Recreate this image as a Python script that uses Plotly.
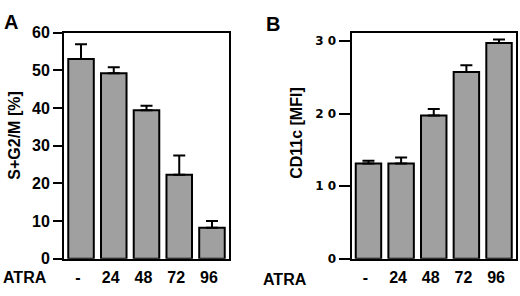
import plotly.graph_objects as go

# ---- data ----
categories = ["-", "24", "48", "72", "96"]
sg2m_values = [53.0, 49.2, 39.4, 22.3, 8.2]
sg2m_err = [3.9, 1.6, 1.2, 5.1, 1.8]
cd11c_values = [13.15, 13.15, 19.75, 25.75, 29.75]
cd11c_err = [0.35, 0.8, 0.9, 0.95, 0.5]
a_ticks = [0, 10, 20, 30, 40, 50, 60]
b_ticks = [0, 10, 20, 30]
b_ticktext = ["0", "1 0", "2 0", "3 0"]

W, H = 520, 296
BAR_FILL = "#a0a0a0"
FONT = "Liberation Sans"


def px(x):
    return x / W


def py(y):
    return 1 - y / H


fig = go.Figure()

fig.add_trace(go.Bar(
    x=list(range(len(categories))), y=sg2m_values,
    width=0.78,
    marker=dict(color=BAR_FILL, line=dict(color="black", width=2)),
    error_y=dict(type="data", symmetric=False, array=sg2m_err,
                 arrayminus=[0] * len(sg2m_err),
                 color="black", thickness=2, width=6),
    xaxis="x", yaxis="y", showlegend=False,
))
fig.add_trace(go.Bar(
    x=list(range(len(categories))), y=cd11c_values,
    width=0.78,
    marker=dict(color=BAR_FILL, line=dict(color="black", width=2)),
    error_y=dict(type="data", symmetric=False, array=cd11c_err,
                 arrayminus=[0] * len(cd11c_err),
                 color="black", thickness=2, width=6),
    xaxis="x2", yaxis="y2", showlegend=False,
))

ydom = [30 / H, 270 / H]
common_x = dict(
    range=[-0.52, 4.52], tickmode="array",
    tickvals=list(range(len(categories))), ticktext=categories,
    showline=True, mirror=True, linecolor="black", linewidth=2,
    ticks="", showgrid=False, zeroline=False,
    tickfont=dict(family=FONT, size=16, color="black", weight="bold"),
    ticklabelstandoff=3, ticklabelshift=-3, fixedrange=True,
)

fig.update_layout(
    width=W, height=H,
    margin=dict(l=0, r=0, t=0, b=0, pad=0),
    paper_bgcolor="white", plot_bgcolor="white",
    bargap=0.2,
    xaxis=dict(domain=[px(64), px(229)], anchor="y", **common_x),
    xaxis2=dict(domain=[px(351.5), px(516)], anchor="y2", **common_x),
    yaxis=dict(
        domain=ydom, anchor="x", range=[0, 60],
        tickmode="array", tickvals=a_ticks,
        showline=True, mirror=True, linecolor="black", linewidth=2,
        ticks="outside", ticklen=9, tickwidth=2, tickcolor="black",
        showgrid=False, zeroline=False, fixedrange=True,
        tickfont=dict(family=FONT, size=16, color="black", weight="bold"),
    ),
    yaxis2=dict(
        domain=ydom, anchor="x2", range=[0, 31.2],
        tickmode="array", tickvals=b_ticks, ticktext=b_ticktext,
        showline=True, mirror=True, linecolor="black", linewidth=2,
        ticks="outside", ticklen=11, tickwidth=2, tickcolor="black",
        showgrid=False, zeroline=False, fixedrange=True,
        tickfont=dict(family="DejaVu Sans", size=12, color="black", weight="bold"),
    ),
)

ann_font = dict(family=FONT, color="black", weight="bold")
annotations = [
    dict(text="A", x=px(11), y=py(15), font=dict(size=20, **ann_font)),
    dict(text="B", x=px(273), y=py(17.5), font=dict(size=20, **ann_font)),
    dict(text="S+G2/M [%]", x=px(14.5), y=py(136), textangle=-90,
         font=dict(size=16, **ann_font)),
    dict(text="CD11c [MFI]", x=px(296.5), y=py(133), textangle=-90,
         font=dict(size=16, **ann_font)),
    dict(text="ATRA", x=px(25), y=py(286), font=dict(size=16, **ann_font)),
    dict(text="ATRA", x=px(285), y=py(288), font=dict(size=16, **ann_font)),
]
for a in annotations:
    a.update(xref="paper", yref="paper", showarrow=False,
             xanchor="center", yanchor="middle")
fig.update_layout(annotations=annotations)

fig.write_html("out.html", config={"displayModeBar": False},
               post_script="document.body.style.margin='0';")
